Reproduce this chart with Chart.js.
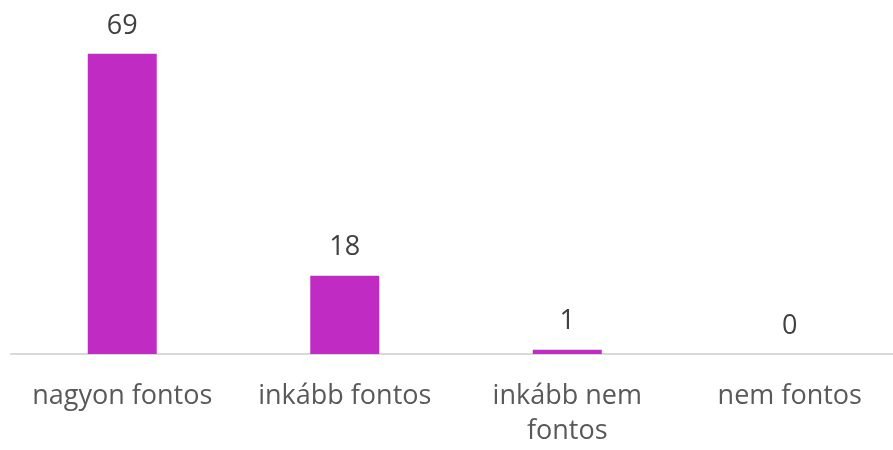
<!DOCTYPE html>
<html>
<head>
<meta charset="utf-8">
<script src="https://cdn.jsdelivr.net/npm/chart.js@4/dist/chart.umd.min.js"></script>
<style>
html,body{margin:0;padding:0;background:#fff;overflow:hidden;}
#wrap{width:893px;height:450px;overflow:hidden;}
canvas{display:block;}
</style>
</head>
<body>
<div id="wrap"><canvas id="c" width="901" height="450"></canvas></div>
<script>
const categories = [["nagyon fontos"], ["inkább fontos"], ["inkább nem", "fontos"], ["nem fontos"]];
const values = [69, 18, 1, 0];
const barColor = "#C02BC4";

const valueLabels = {
  id: "valueLabels",
  afterDatasetsDraw(chart) {
    const ctx = chart.ctx;
    const meta = chart.getDatasetMeta(0);
    ctx.save();
    ctx.font = "27px 'Open Sans', sans-serif";
    ctx.fillStyle = "#404040";
    ctx.textAlign = "center";
    ctx.textBaseline = "middle";
    meta.data.forEach((bar, i) => {
      ctx.fillText(String(values[i]), bar.x, bar.y - 28);
    });
    ctx.restore();
  }
};

new Chart(document.getElementById("c"), {
  type: "bar",
  data: {
    labels: categories,
    datasets: [{
      data: values,
      backgroundColor: barColor,
      borderWidth: 0,
      barPercentage: 0.31,
      categoryPercentage: 1.0
    }]
  },
  options: {
    responsive: false,
    animation: false,
    maintainAspectRatio: false,
    layout: { padding: { left: 11, right: 0, top: 6, bottom: 0 } },
    plugins: { legend: { display: false }, tooltip: { enabled: false } },
    scales: {
      x: {
        grid: { display: false, drawTicks: false },
        border: { display: true, color: "#d9d9d9", width: 2 },
        ticks: {
          color: "#595959",
          font: { family: "'Open Sans', sans-serif", size: 27, lineHeight: 1.3 },
          padding: 25,
          maxRotation: 0,
          autoSkip: false
        },
        afterFit(scale) { scale.height = 96; }
      },
      y: {
        display: false,
        min: 0,
        max: 80
      }
    }
  },
  plugins: [valueLabels]
});
</script>
</body>
</html>
